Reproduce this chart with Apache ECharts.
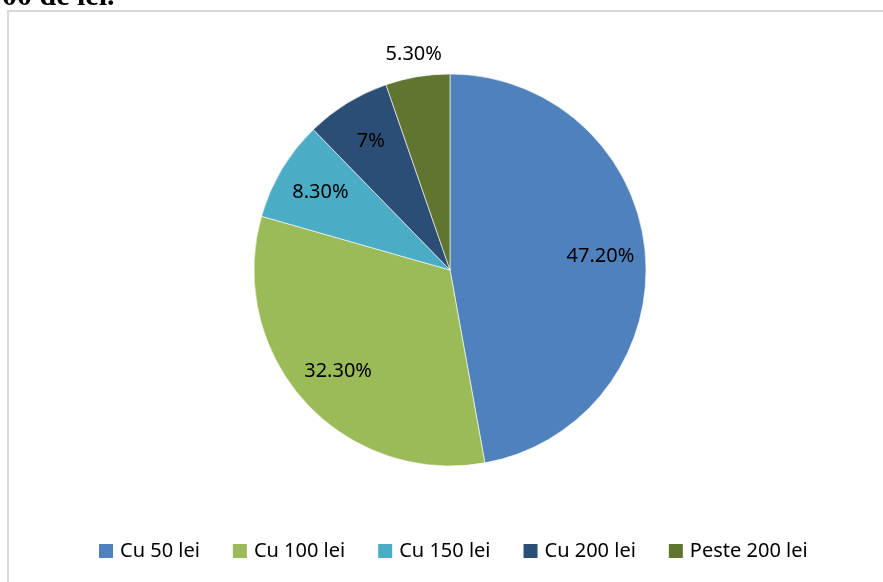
<!DOCTYPE html>
<html>
<head>
<meta charset="utf-8">
<script src="https://cdn.jsdelivr.net/npm/echarts@6/dist/echarts.min.js"></script>
<style>
html,body{margin:0;padding:0;background:#fff;}
#chart{width:883px;height:582px;}
</style>
</head>
<body>
<div id="chart"></div>
<script>
const categories = ['Cu 50 lei', 'Cu 100 lei', 'Cu 150 lei', 'Cu 200 lei', 'Peste 200 lei'];
const values = [47.2, 32.3, 8.3, 7, 5.3];
const valueLabels = ['47.20%', '32.30%', '8.30%', '7%', '5.30%'];
const colors = ['#4F81BD', '#9BBB59', '#4BACC6', '#2C4D75', '#5F7530'];
const headingText = '00 de lei.';

const center = [450, 270];
const R = 196;
const labelFont = { fontFamily: 'Noto Sans', fontSize: 20, color: '#000' };

const mainData = categories.map((c, i) => ({ name: c, value: values[i], itemStyle: { color: colors[i] } }));
const innerLabelData = categories.map((c, i) => ({
  name: c, value: values[i],
  label: { show: i < 4, formatter: valueLabels[i] }
}));
const outerLabelData = categories.map((c, i) => ({
  name: c, value: values[i],
  label: { show: i === 4, formatter: valueLabels[i] }
}));

const chart = echarts.init(document.getElementById('chart'), null, { renderer: 'canvas' });
chart.setOption({
  animation: false,
  backgroundColor: '#fff',
  graphic: [
    { type: 'rect', shape: { x: 8, y: 11, width: 900, height: 620 }, style: { fill: 'none', stroke: '#D9D9D9', lineWidth: 2 }, silent: true, z: 0 },
    { type: 'text', x: 2, y: -3, style: { text: headingText, font: 'bold 30px "Liberation Serif"', fill: '#000', verticalAlign: 'middle', align: 'left' }, silent: true, z: 10 }
  ],
  legend: {
    data: categories,
    left: 99,
    top: 541,
    padding: 0,
    itemWidth: 14,
    itemHeight: 14,
    itemGap: 33,
    icon: 'rect',
    itemStyle: { borderWidth: 0 },
    textStyle: { fontFamily: 'Noto Sans', fontSize: 20, color: '#000', padding: [0, 0, 0, 2] },
    selectedMode: false
  },
  series: [
    {
      type: 'pie',
      center: center,
      radius: [0, R],
      startAngle: 90,
      clockwise: true,
      data: mainData,
      label: { show: false },
      labelLine: { show: false },
      itemStyle: { borderColor: '#fff', borderWidth: 0.6 },
      emphasis: { disabled: true },
      silent: true
    },
    {
      type: 'pie',
      center: center,
      radius: [100, R],
      startAngle: 90,
      clockwise: true,
      data: innerLabelData,
      itemStyle: { color: 'rgba(0,0,0,0)', borderWidth: 0 },
      label: Object.assign({ position: 'inside' }, labelFont),
      labelLine: { show: false },
      emphasis: { disabled: true },
      silent: true
    },
    {
      type: 'pie',
      center: center,
      radius: [R, 236],
      startAngle: 90,
      clockwise: true,
      data: outerLabelData,
      itemStyle: { color: 'rgba(0,0,0,0)', borderWidth: 0 },
      label: Object.assign({ position: 'inside' }, labelFont),
      labelLine: { show: false },
      emphasis: { disabled: true },
      silent: true
    }
  ]
});
</script>
</body>
</html>
